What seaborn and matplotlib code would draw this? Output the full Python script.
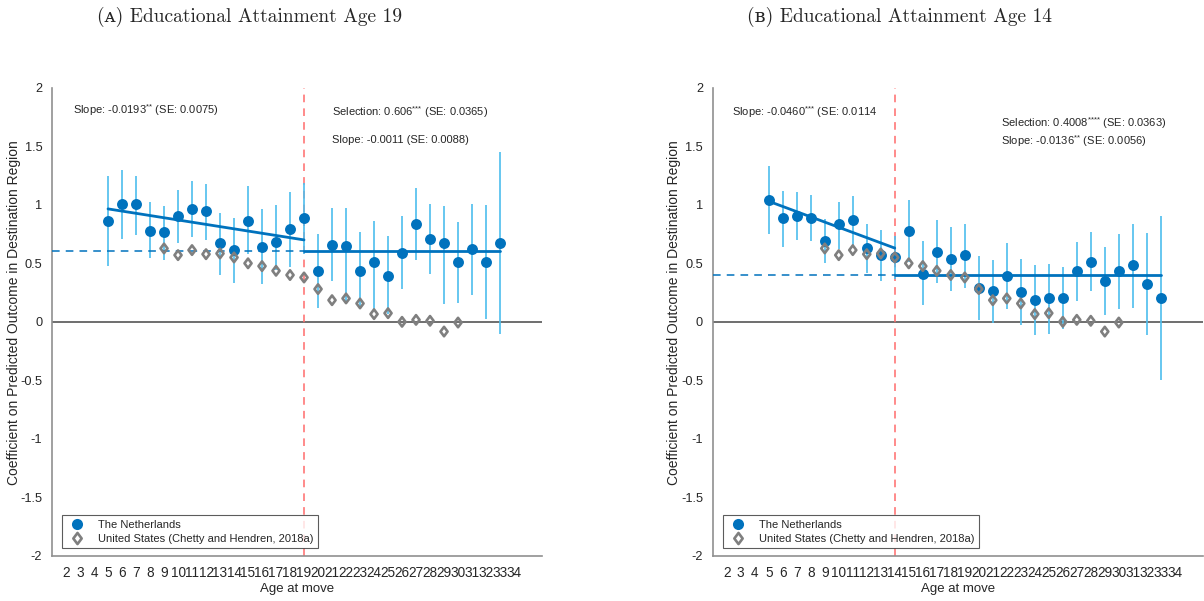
import numpy as np
import pandas as pd
import matplotlib
matplotlib.use("Agg")
import matplotlib.pyplot as plt
import seaborn as sns
from matplotlib.lines import Line2D
from matplotlib.path import Path

# ---------------- data ----------------
ages_nl = list(range(5, 34))
ages_us = list(range(9, 31))

# Panel A: educational attainment age 19
nl19_coef = [0.863, 1.01, 1.005, 0.78, 0.77, 0.90, 0.963, 0.943, 0.67, 0.61, 0.863, 0.64, 0.68, 0.79, 0.886,
             0.436, 0.658, 0.647, 0.436, 0.515, 0.393, 0.59, 0.835, 0.707, 0.67, 0.507, 0.62, 0.51, 0.67]
nl19_lo = [0.48, 0.71, 0.74, 0.545, 0.53, 0.67, 0.726, 0.70, 0.40, 0.33, 0.58, 0.32, 0.44, 0.47, 0.58,
           0.12, 0.35, 0.16, 0.12, 0.09, 0.07, 0.28, 0.527, 0.41, 0.15, 0.165, 0.23, 0.02, -0.105]
nl19_hi = [1.25, 1.30, 1.25, 1.02, 0.99, 1.125, 1.205, 1.18, 0.934, 0.89, 1.16, 0.96, 1.0, 1.11, 1.19,
           0.75, 0.97, 0.97, 0.77, 0.86, 0.735, 0.90, 1.14, 1.006, 0.99, 0.85, 1.01, 1.0, 1.45]

# Panel B: educational attainment age 14
nl14_coef = [1.04, 0.883, 0.906, 0.886, 0.69, 0.835, 0.87, 0.63, 0.57, 0.55, 0.78, 0.41, 0.60, 0.536, 0.57,
             0.293, 0.262, 0.393, 0.256, 0.185, 0.20, 0.20, 0.433, 0.515, 0.35, 0.433, 0.485, 0.32, 0.20]
nl14_lo = [0.75, 0.64, 0.70, 0.69, 0.50, 0.62, 0.65, 0.42, 0.345, 0.37, 0.51, 0.145, 0.33, 0.26, 0.29,
           0.017, -0.006, 0.108, -0.03, -0.11, -0.10, -0.06, 0.18, 0.265, 0.057, 0.108, 0.114, -0.11, -0.50]
nl14_hi = [1.333, 1.12, 1.11, 1.08, 0.88, 1.025, 1.077, 0.835, 0.786, 0.73, 1.04, 0.69, 0.87, 0.81, 0.84,
           0.564, 0.53, 0.67, 0.535, 0.485, 0.49, 0.47, 0.686, 0.77, 0.64, 0.75, 0.84, 0.76, 0.90]

# United States (Chetty and Hendren, 2018a)
us_coef = [0.627, 0.57, 0.613, 0.578, 0.584, 0.55, 0.50, 0.476, 0.436, 0.40, 0.379,
           0.28, 0.185, 0.20, 0.157, 0.066, 0.074, 0.0, 0.017, 0.009, -0.083, -0.006]

# fitted lines
cutoffs = [19, 14]
selection = [0.606, 0.4008]
pre_fit_ages = [[5, 19], [5, 14]]
pre_fit_vals = [[0.965, 0.70], [1.03, 0.63]]
post_end_age = 33

titles = ["(\u1d00) Educational Attainment Age 19", "(\u0299) Educational Attainment Age 14"]
annotations = [
    [(2.5, 1.81, r"Slope: -0.0193$^{{*}{*}}$ (SE: 0.0075)"),
     (21.0, 1.79, r"Selection: 0.606$^{{*}{*}{*}}$ (SE: 0.0365)"),
     (21.0, 1.555, r"Slope: -0.0011 (SE: 0.0088)")],
    [(2.4, 1.79, r"Slope: -0.0460$^{{*}{*}{*}}$ (SE: 0.0114"),
     (21.6, 1.70, r"Selection: 0.4008$^{{*}{*}{*}{*}}$ (SE: 0.0363)"),
     (21.6, 1.547, r"Slope: -0.0136$^{{*}{*}}$ (SE: 0.0056)")],
]
xtick_vals = list(range(2, 35))
ytick_vals = [-2, -1.5, -1, -0.5, 0, 0.5, 1, 1.5, 2]

# ---------------- style ----------------
sns.set_style("white")
plt.rcParams["font.family"] = ["Liberation Sans", "DejaVu Sans"]
plt.rcParams["mathtext.fontset"] = "custom"
plt.rcParams["mathtext.rm"] = "Liberation Sans"
plt.rcParams["mathtext.it"] = "Liberation Sans:italic"

BLUE = "#0072BD"
LBLUE = "#4DBEEE"
GRAY = "#7f7f7f"
RED = "#ff6b6b"

diamond = Path([(0, 1), (0.75, 0), (0, -1), (-0.75, 0), (0, 1)],
               [Path.MOVETO, Path.LINETO, Path.LINETO, Path.LINETO, Path.CLOSEPOLY])

fig = plt.figure(figsize=(12.04, 6.01), dpi=100)
axes_pos = [[0.0432, 0.075, 0.407, 0.779], [0.592, 0.075, 0.407, 0.779]]
panels = [(nl19_coef, nl19_lo, nl19_hi), (nl14_coef, nl14_lo, nl14_hi)]
title_x = [0.2076, 0.7475]

for i in range(2):
    ax = fig.add_axes(axes_pos[i])
    coef, lo, hi = panels[i]
    df_nl = pd.DataFrame({"age": ages_nl, "coef": coef, "lo": lo, "hi": hi})
    df_us = pd.DataFrame({"age": ages_us, "coef": us_coef})

    ax.axhline(0, color="#555555", lw=1.2, zorder=1)
    ax.axvline(cutoffs[i], color=RED, lw=1.1, ls=(0, (5, 4)), zorder=1)
    ax.vlines(df_nl["age"], df_nl["lo"], df_nl["hi"], color=LBLUE, lw=1.2, zorder=2)

    # fit lines
    ax.plot([1, cutoffs[i]], [selection[i], selection[i]], color=BLUE, lw=1.1, ls=(0, (5, 4)), zorder=3)
    df_pre = pd.DataFrame({"age": pre_fit_ages[i], "val": pre_fit_vals[i]})
    sns.lineplot(data=df_pre, x="age", y="val", ax=ax, color=BLUE, lw=2, zorder=3, legend=False)
    df_post = pd.DataFrame({"age": [cutoffs[i], post_end_age], "val": [selection[i], selection[i]]})
    sns.lineplot(data=df_post, x="age", y="val", ax=ax, color=BLUE, lw=2, zorder=3, legend=False)

    sns.scatterplot(data=df_nl, x="age", y="coef", ax=ax, color=BLUE, s=62, edgecolor=BLUE,
                    linewidth=0, zorder=4, legend=False)
    sns.scatterplot(data=df_us, x="age", y="coef", ax=ax, marker=diamond, s=46, facecolor="none",
                    edgecolor=GRAY, linewidth=1.9, zorder=5, legend=False)

    ax.set_xlim(1, 36)
    ax.set_ylim(-2, 2)
    ax.set_xticks(xtick_vals)
    ax.set_xticklabels([str(v) for v in xtick_vals], fontsize=9.8)
    ax.set_yticks(ytick_vals)
    ax.set_yticklabels([f"{v:g}" for v in ytick_vals], fontsize=9.2)
    ax.tick_params(axis="both", direction="in", length=4, width=0.8, color="#333333", pad=7)
    ax.tick_params(axis="y", length=3)
    for s in ["top", "right"]:
        ax.spines[s].set_visible(False)
    for s in ["left", "bottom"]:
        ax.spines[s].set_color("#909090")
        ax.spines[s].set_linewidth(1.2)

    ax.set_xlabel("Age at move", fontsize=9.5)
    ax.set_ylabel("Coefficient on Predicted Outcome in Destination Region", fontsize=10)
    ax.xaxis.set_label_coords(0.5, -0.058)
    ax.yaxis.set_label_coords(-0.064, 0.52)

    for (tx, ty, tt) in annotations[i]:
        ax.text(tx, ty, tt, fontsize=8, ha="left", va="center")

    handles = [
        Line2D([], [], marker="o", color=BLUE, ls="none", markersize=8, markeredgewidth=0),
        Line2D([], [], marker=diamond, ls="none", markersize=8, markerfacecolor="none",
               markeredgecolor=GRAY, markeredgewidth=1.9),
    ]
    leg = ax.legend(handles, ["The Netherlands", "United States (Chetty and Hendren, 2018a)"],
                    loc="lower left", bbox_to_anchor=(0.02, 0.017), borderaxespad=0, fontsize=8,
                    frameon=True, fancybox=False, handlelength=2.0, handletextpad=0.9,
                    labelspacing=0.35, borderpad=0.4)
    leg.get_frame().set_edgecolor("#333333")
    leg.get_frame().set_linewidth(0.8)

    fig.text(title_x[i], 0.972, titles[i], ha="center", va="center", fontsize=14,
             family=["cmr10", "DejaVu Serif"])

fig.savefig("out.png", dpi=100)
